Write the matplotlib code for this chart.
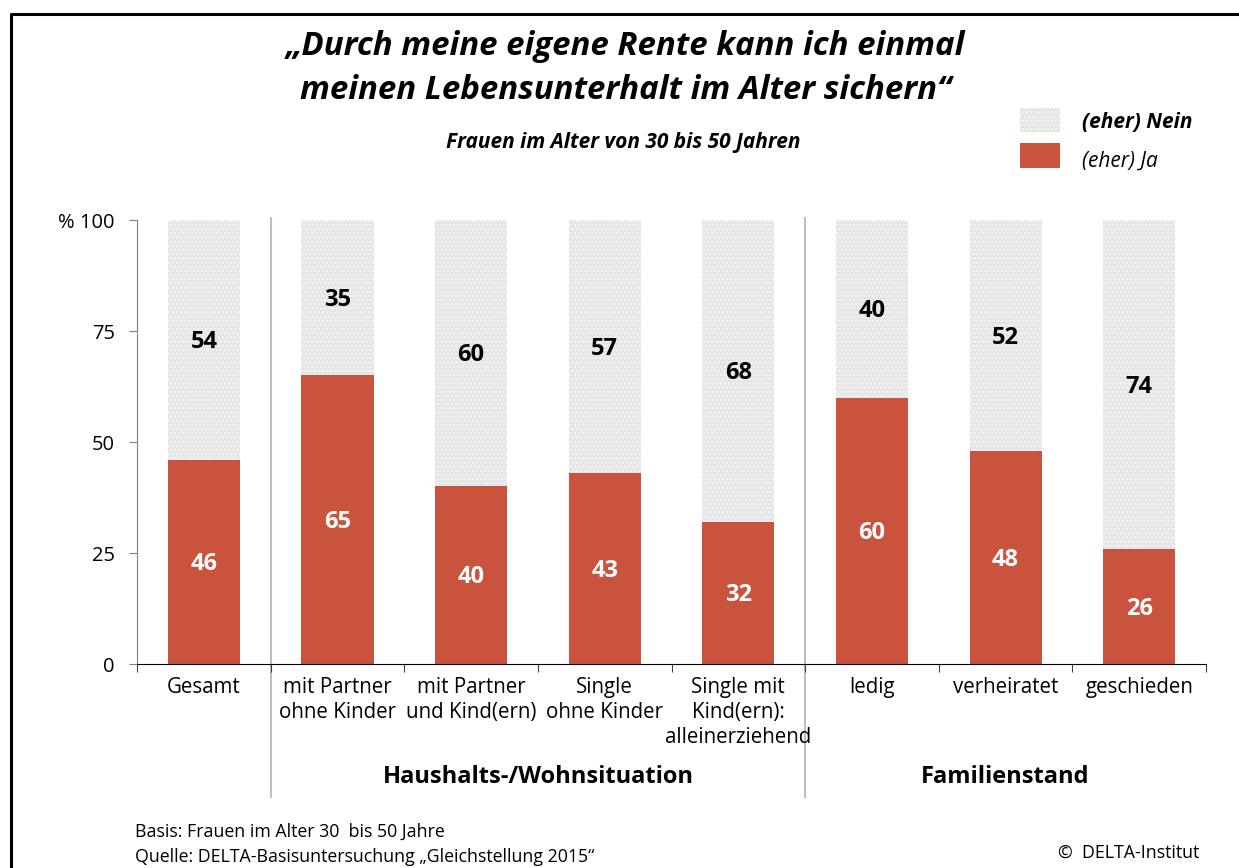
import matplotlib.pyplot as plt
import numpy as np

plt.rcParams['font.family'] = ['Open Sans', 'DejaVu Sans']
plt.rcParams['hatch.linewidth'] = 1.2

categories = ['Gesamt', 'mit Partner\nohne Kinder', 'mit Partner\nund Kind(ern)',
              'Single\nohne Kinder', 'Single mit\nKind(ern):\nalleinerziehend',
              'ledig', 'verheiratet', 'geschieden']
ja = [46, 65, 40, 43, 32, 60, 48, 26]
nein = [54, 35, 60, 57, 68, 40, 52, 74]
groups = ['Haushalts-/Wohnsituation', 'Familienstand']
yticks = [0, 25, 50, 75, 100]
ytick_labels = ['0', '25', '50', '75', '% 100']

RED = '#c9533d'
GREY = '#e5e5e5'


def main():
    fig = plt.figure(figsize=(12.39, 8.68), dpi=100)
    ax = fig.add_axes([0.1106, 0.235, 0.8628, 0.5115])

    x = np.arange(len(categories))
    ax.bar(x, ja, width=0.54, color=RED, linewidth=0)
    ax.bar(x, nein, bottom=ja, width=0.54, facecolor=GREY,
           edgecolor='#f5f5f5', hatch='....', linewidth=0)

    for i in x:
        ax.text(i, ja[i] / 2 - 0.5, str(ja[i]), ha='center', va='center',
                color='white', fontsize=17, fontweight='bold')
        ax.text(i, ja[i] + nein[i] / 2 - 0.5, str(nein[i]), ha='center',
                va='center', color='black', fontsize=17, fontweight='bold')

    ax.set_xlim(-0.5, 7.5)
    ax.set_ylim(0, 100)
    ax.set_yticks(yticks)
    ax.set_yticklabels(ytick_labels, fontsize=14.5)
    ax.set_xticks(np.arange(-0.5, 8, 1))
    ax.set_xticklabels([])
    ax.set_xticks(x, minor=True)
    ax.set_xticklabels(categories, minor=True, fontsize=14.8, va='top',
                       linespacing=1.25)
    ax.tick_params(axis='x', which='major', direction='out', length=6,
                   color='#404040')
    ax.tick_params(axis='x', which='minor', length=0, pad=9)
    ax.tick_params(axis='y', direction='out', length=6, color='#808080', pad=10)

    for s in ['top', 'right']:
        ax.spines[s].set_visible(False)
    ax.spines['left'].set_color('#808080')
    ax.spines['bottom'].set_color('black')

    # group separators
    for xs in [0.5, 4.5]:
        ax.plot([xs, xs], [100.5, -30], color='#bfbfbf', lw=1.5,
                clip_on=False, zorder=0)

    ax.text(2.5, -25.5, groups[0], ha='center', va='center',
            fontsize=17, fontweight='bold')
    ax.text(6.0, -25.5, groups[1], ha='center', va='center',
            fontsize=17, fontweight='bold')

    # titles
    fig.text(0.505, 0.946, '\u201eDurch meine eigene Rente kann ich einmal',
             ha='center', va='center', fontsize=23.8, fontweight='bold',
             style='italic')
    fig.text(0.505, 0.896, 'meinen Lebensunterhalt im Alter sichern\u201c',
             ha='center', va='center', fontsize=23.8, fontweight='bold',
             style='italic')
    fig.text(0.503, 0.836, 'Frauen im Alter von 30 bis 50 Jahren',
             ha='center', va='center', fontsize=15, fontweight='bold',
             style='italic')

    # legend
    fig.patches.append(plt.Rectangle((1020 / 1239, 1 - 132 / 868), 40 / 1239,
                                     24 / 868, transform=fig.transFigure,
                                     facecolor=GREY, edgecolor='#f5f5f5',
                                     hatch='....', linewidth=0))
    fig.patches.append(plt.Rectangle((1020 / 1239, 1 - 168 / 868), 40 / 1239,
                                     25 / 868, transform=fig.transFigure,
                                     facecolor=RED, linewidth=0))
    fig.text(1082 / 1239, 1 - 122 / 868, '(eher) Nein', ha='left', va='center',
             fontsize=15, fontweight='bold', style='italic')
    fig.text(1082 / 1239, 1 - 161 / 868, '(eher) Ja', ha='left', va='center',
             fontsize=15, style='italic')

    # footer
    fig.text(135 / 1239, 1 - 832 / 868, 'Basis: Frauen im Alter 30  bis 50 Jahre',
             ha='left', va='center', fontsize=12.8)
    fig.text(135 / 1239, 1 - 857 / 868,
             'Quelle: DELTA-Basisuntersuchung \u201eGleichstellung 2015\u201c',
             ha='left', va='center', fontsize=12.8)
    fig.text(1199 / 1239, 1 - 853 / 868, '\u00a9  DELTA-Institut',
             ha='right', va='center', fontsize=12.8)

    # frame
    fig.add_artist(plt.Line2D([11 / 1239, 11 / 1239, 1.0],
                              [0.0, 1 - 14 / 868, 1 - 14 / 868],
                              transform=fig.transFigure, color='black', lw=2.2))

    fig.savefig('out.png', dpi=100)


if __name__ == '__main__':
    main()
